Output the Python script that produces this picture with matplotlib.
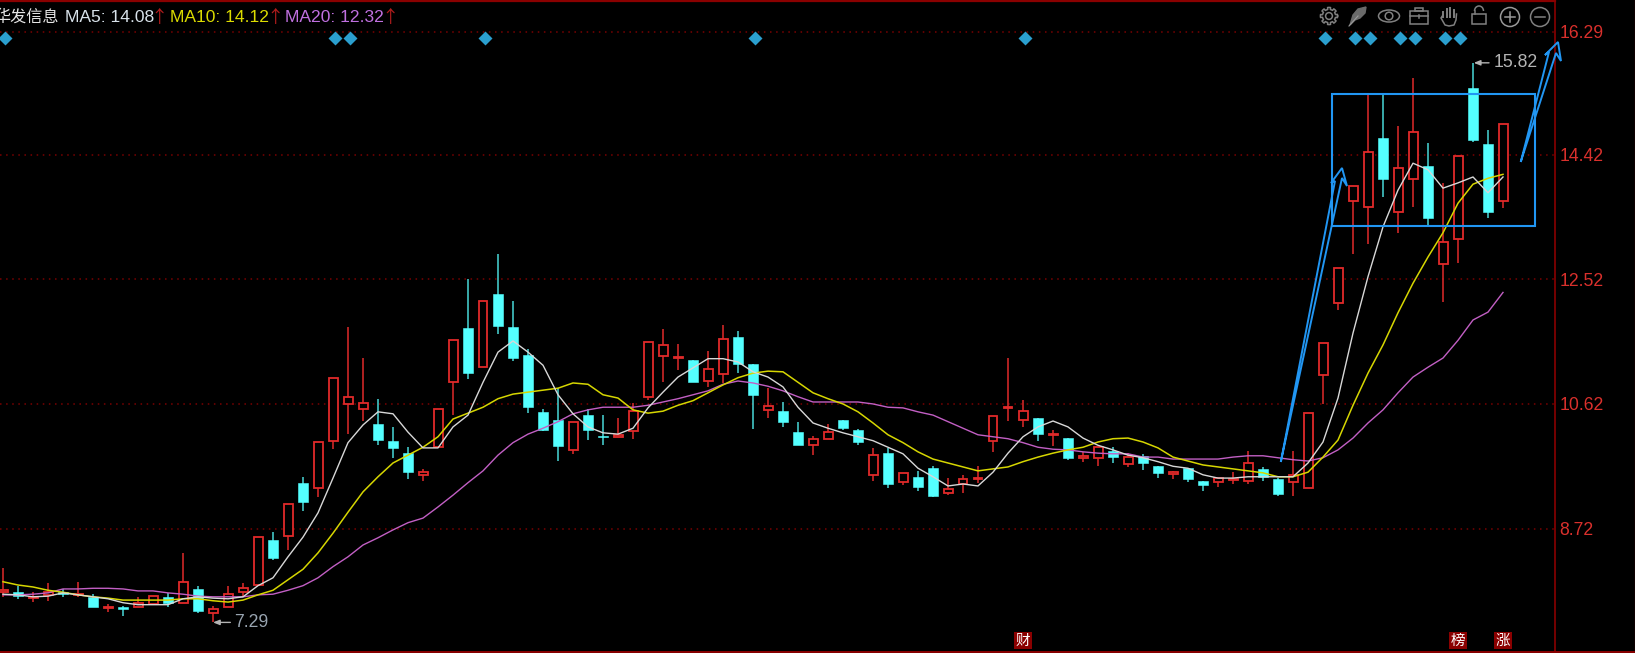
import numpy as np
from matplotlib import pyplot as plt
from matplotlib.patches import Circle, Ellipse, Rectangle, Arc

# Candle values, one per trading day
opens = [7.75, 7.75, 7.66, 7.71, 7.75, 7.71, 7.68, 7.51, 7.53, 7.53, 7.57, 7.68, 7.59, 7.80, 7.43, 7.53, 7.75, 7.86, 8.55, 8.61,
         9.42, 9.34, 10.05, 10.62, 10.54, 10.31, 10.05, 9.87, 9.54, 9.96, 10.95, 11.78, 11.18, 12.30, 11.79, 11.37, 10.50, 10.38, 9.92, 10.45,
         10.13, 10.12, 10.21, 10.73, 11.35, 11.32, 11.29, 10.97, 11.08, 11.64, 11.23, 10.53, 10.51, 10.19, 9.99, 10.09, 10.38, 10.22, 9.54, 9.87,
         9.43, 9.51, 9.64, 9.26, 9.40, 9.48, 10.05, 10.56, 10.38, 10.41, 10.15, 10.10, 9.80, 9.80, 9.90, 9.71, 9.83, 9.68, 9.55, 9.64,
         9.45, 9.43, 9.46, 9.45, 9.63, 9.48, 9.43, 9.34, 11.06, 12.16, 13.71, 13.62, 14.67, 13.55, 14.05, 14.25, 12.75, 13.14, 15.44, 14.58,
         13.71]
closes = [7.78, 7.69, 7.68, 7.75, 7.72, 7.72, 7.53, 7.53, 7.50, 7.59, 7.69, 7.59, 7.91, 7.46, 7.49, 7.72, 7.81, 8.59, 8.27, 9.10,
          9.13, 10.04, 11.02, 10.73, 10.64, 10.07, 9.95, 9.58, 9.58, 10.54, 11.59, 11.09, 12.19, 11.81, 11.32, 10.57, 10.22, 9.98, 10.35, 10.22,
          10.12, 10.15, 10.51, 11.56, 11.52, 11.34, 10.95, 11.15, 11.61, 11.23, 10.76, 10.59, 10.35, 9.99, 10.09, 10.19, 10.25, 10.04, 9.84, 9.40,
          9.57, 9.36, 9.22, 9.32, 9.48, 9.49, 10.44, 10.57, 10.51, 10.16, 10.16, 9.80, 9.83, 9.96, 9.81, 9.81, 9.72, 9.57, 9.58, 9.48,
          9.38, 9.49, 9.48, 9.72, 9.51, 9.25, 9.54, 10.48, 11.55, 12.69, 13.94, 14.46, 14.05, 14.22, 14.77, 13.45, 13.09, 14.40, 14.64, 13.55,
          14.89]
highs = [8.12, 7.85, 7.75, 7.89, 7.80, 7.91, 7.72, 7.57, 7.54, 7.68, 7.69, 7.74, 8.35, 7.85, 7.54, 7.85, 7.89, 8.59, 8.67, 9.10,
         9.51, 10.04, 11.02, 11.79, 11.32, 10.70, 10.27, 9.96, 9.63, 10.54, 11.59, 12.53, 12.19, 12.91, 12.19, 11.46, 10.54, 10.86, 10.35, 10.54,
         10.45, 10.41, 10.64, 11.56, 11.76, 11.53, 11.29, 11.43, 11.82, 11.73, 11.23, 10.86, 10.65, 10.35, 10.13, 10.31, 10.38, 10.24, 9.95, 9.95,
         9.57, 9.60, 9.67, 9.49, 9.54, 9.67, 10.44, 11.32, 10.68, 10.41, 10.22, 10.10, 9.89, 9.96, 9.96, 9.87, 9.86, 9.68, 9.60, 9.64,
         9.45, 9.49, 9.58, 9.90, 9.66, 9.49, 9.90, 10.48, 11.55, 12.69, 13.94, 15.33, 15.33, 14.86, 15.59, 14.60, 13.99, 14.40, 15.82, 14.80,
         14.89]
lows = [7.68, 7.65, 7.60, 7.62, 7.68, 7.68, 7.53, 7.45, 7.39, 7.53, 7.57, 7.53, 7.59, 7.43, 7.29, 7.53, 7.68, 7.86, 8.24, 8.39,
        8.99, 9.20, 9.93, 10.16, 10.36, 9.99, 9.80, 9.48, 9.45, 9.96, 10.45, 11.00, 11.18, 11.69, 11.28, 10.48, 10.21, 9.75, 9.86, 10.07,
        9.99, 10.12, 10.09, 10.68, 10.95, 11.14, 10.95, 10.88, 10.94, 11.09, 10.24, 10.41, 10.27, 9.99, 9.84, 10.09, 10.22, 9.99, 9.45, 9.34,
        9.38, 9.29, 9.20, 9.23, 9.26, 9.42, 9.89, 10.36, 10.27, 10.05, 9.98, 9.77, 9.74, 9.68, 9.72, 9.66, 9.61, 9.49, 9.48, 9.43,
        9.29, 9.36, 9.40, 9.40, 9.45, 9.22, 9.22, 9.34, 10.62, 12.05, 12.91, 13.06, 13.77, 13.23, 13.62, 13.35, 12.17, 12.77, 14.61, 13.45,
        13.61]

ma5 = [7.72, 7.71, 7.68, 7.69, 7.74, 7.71, 7.68, 7.65, 7.59, 7.56, 7.56, 7.56, 7.65, 7.68, 7.66, 7.65, 7.68, 7.85, 7.97, 8.29,
       8.59, 8.96, 9.49, 10.03, 10.30, 10.50, 10.47, 10.19, 9.95, 9.95, 10.27, 10.45, 10.95, 11.41, 11.58, 11.41, 11.21, 10.76, 10.47, 10.27,
       10.18, 10.16, 10.25, 10.56, 10.80, 11.03, 11.17, 11.31, 11.31, 11.26, 11.11, 11.03, 10.88, 10.57, 10.33, 10.25, 10.18, 10.12, 10.06, 9.96,
       9.86, 9.64, 9.51, 9.37, 9.40, 9.37, 9.58, 9.87, 10.12, 10.27, 10.36, 10.27, 10.10, 9.99, 9.92, 9.84, 9.80, 9.74, 9.67, 9.64,
       9.54, 9.49, 9.49, 9.51, 9.51, 9.51, 9.51, 9.72, 10.04, 10.71, 11.70, 12.56, 13.32, 13.88, 14.29, 14.19, 13.91, 13.99, 14.08, 13.84,
       14.08]
ma10 = [7.91, 7.86, 7.83, 7.78, 7.75, 7.71, 7.68, 7.66, 7.63, 7.63, 7.63, 7.63, 7.65, 7.65, 7.62, 7.60, 7.63, 7.71, 7.78, 7.94,
        8.10, 8.35, 8.65, 8.97, 9.28, 9.51, 9.72, 9.84, 9.96, 10.12, 10.39, 10.48, 10.57, 10.70, 10.77, 10.80, 10.83, 10.86, 10.94, 10.92,
        10.76, 10.71, 10.53, 10.48, 10.51, 10.60, 10.67, 10.79, 10.91, 11.02, 11.09, 11.12, 11.11, 10.95, 10.79, 10.70, 10.62, 10.50, 10.33, 10.15,
        10.03, 9.89, 9.78, 9.72, 9.66, 9.60, 9.63, 9.66, 9.74, 9.81, 9.87, 9.92, 9.96, 10.04, 10.09, 10.10, 10.04, 9.95, 9.81, 9.75,
        9.69, 9.66, 9.63, 9.60, 9.57, 9.51, 9.51, 9.58, 9.81, 10.07, 10.60, 11.09, 11.52, 12.01, 12.46, 12.86, 13.23, 13.68, 13.97, 14.06,
        14.12]
ma20 = [7.71, 7.71, 7.72, 7.74, 7.80, 7.80, 7.81, 7.81, 7.80, 7.77, 7.77, 7.74, 7.72, 7.69, 7.68, 7.68, 7.68, 7.71, 7.72, 7.78,
        7.85, 7.97, 8.14, 8.29, 8.47, 8.58, 8.70, 8.81, 8.88, 9.05, 9.23, 9.42, 9.60, 9.84, 10.03, 10.16, 10.25, 10.35, 10.47, 10.53,
        10.57, 10.57, 10.57, 10.60, 10.65, 10.70, 10.76, 10.82, 10.92, 10.97, 10.94, 10.89, 10.82, 10.73, 10.65, 10.65, 10.65, 10.65, 10.62, 10.57,
        10.56, 10.50, 10.45, 10.35, 10.25, 10.15, 10.12, 10.09, 10.03, 9.96, 9.93, 9.92, 9.89, 9.87, 9.86, 9.86, 9.81, 9.81, 9.78, 9.78,
        9.78, 9.78, 9.81, 9.83, 9.83, 9.80, 9.77, 9.75, 9.80, 9.92, 10.10, 10.33, 10.53, 10.79, 11.03, 11.18, 11.32, 11.59, 11.90, 12.02,
        12.32]

price_ticks = [16.29, 14.42, 12.52, 10.62, 8.72]
diamond_days = [0, 22, 23, 32, 50, 68, 88, 90, 91, 93, 94, 96, 97]
tag_days = [68, 97, 100]
tag_chars = ['财', '榜', '涨']

W, H = 1635, 653
AXIS_X = 1555
RED = '#e12a2a'
CYAN = '#54ffff'
WICK_CYAN = '#48d8d8'
DARK_RED = '#8a0000'
BLUE = '#2196f3'
GREY = '#808080'
LATIN = ['Liberation Sans', 'DejaVu Sans']
CJK = ['Noto Sans CJK SC', 'DejaVu Sans']

opens = np.array(opens)
closes = np.array(closes)
highs = np.array(highs)
lows = np.array(lows)
days = np.arange(len(opens))

fig = plt.figure(figsize=(W / 100, H / 100), dpi=100, facecolor='black')
ax = fig.add_axes([0, 0, AXIS_X / W, 1], facecolor='black')
# one candle every 15 px, first one 3 px from the left edge
ax.set_xlim(-3 / 15, (AXIS_X - 3) / 15)
# 65.6 px per yuan, 16.29 sits 32 px down
top = 16.29 + 32 / 65.6
ax.set_ylim(top - H / 65.6, top)

ax.set_xticks([])
ax.set_yticks(price_ticks)
ax.set_yticklabels(['%.2f' % p for p in price_ticks], family=LATIN, fontsize=12.7)
ax.yaxis.tick_right()
ax.tick_params(axis='y', length=0, pad=3, labelcolor='#d9302c')
ax.grid(axis='y', color='#7a0000', linestyle=(0, (1, 3)), linewidth=1.1)
ax.set_axisbelow(True)
for side, spine in ax.spines.items():
    spine.set_visible(side == 'right')
    spine.set_color(DARK_RED)
    spine.set_linewidth(1.2)

up = closes >= opens
body_lo = np.minimum(opens, closes)
body_hi = np.maximum(opens, closes)

# wicks stop at the body so the red candles stay hollow
ax.vlines(days[up], lows[up], body_lo[up], color=RED, lw=1.1, zorder=2)
ax.vlines(days[up], body_hi[up], highs[up], color=RED, lw=1.1, zorder=2)
ax.vlines(days[~up], lows[~up], highs[~up], color=WICK_CYAN, lw=1.1, zorder=2)
ax.bar(days[up], (body_hi - body_lo)[up], bottom=body_lo[up], width=0.6,
       facecolor='black', edgecolor=RED, linewidth=1.3, zorder=3)
ax.bar(days[~up], (body_hi - body_lo)[~up], bottom=body_lo[~up], width=0.66,
       facecolor=CYAN, edgecolor=CYAN, linewidth=0.4, zorder=3)

ax.plot(days, ma20, color='#c25fc4', lw=1.0, zorder=4)
ax.plot(days, ma10, color='#d6d600', lw=1.1, zorder=5)
ax.plot(days, ma5, color='#d8d8d8', lw=1.0, zorder=6)

# high / low markers
hi_day = int(np.argmax(highs))
lo_day = int(np.argmin(lows))
ax.annotate('%.2f' % highs[hi_day], xy=(hi_day + 0.05, highs[hi_day]), xytext=(14, 0), textcoords='offset points',
            va='center', ha='left', color='#b4b4b4', fontsize=12.7, family=LATIN, zorder=8,
            arrowprops=dict(arrowstyle='-|>,head_width=0.12,head_length=0.3', color='#b4b4b4', lw=1, shrinkA=1, shrinkB=0))
ax.annotate('%.2f' % lows[lo_day], xy=(lo_day, lows[lo_day]), xytext=(15.5, 0), textcoords='offset points',
            va='center', ha='left', color='#98a4b0', fontsize=12.7, family=LATIN, zorder=8,
            arrowprops=dict(arrowstyle='-|>,head_width=0.12,head_length=0.3', color='#b4b4b4', lw=1, shrinkA=1, shrinkB=0))

trans = ax.get_xaxis_transform()
# the diamonds sit a little right of their candle
ax.plot(np.array(diamond_days) + 0.13, [1 - 38 / H] * len(diamond_days), ls='none', marker='D', ms=7.4, color='#2b9fcf',
        mec='none', transform=trans, clip_on=True, zorder=7)
for d, ch in zip(tag_days, tag_chars):
    ax.text(d, 1 - 640.5 / H, ch, transform=trans, ha='center', va='center', color='white', fontsize=10.5,
            family=CJK, zorder=7, bbox=dict(facecolor=DARK_RED, edgecolor='none', pad=1.2))

# everything hand drawn on the chart goes on a pixel overlay
ov = fig.add_axes([0, 0, 1, 1], facecolor='none')
ov.set_xlim(0, W)
ov.set_ylim(H, 0)
ov.axis('off')

ov.plot([0, AXIS_X], [1, 1], color=DARK_RED, lw=1.6)
ov.plot([0, W], [652, 652], color=DARK_RED, lw=1.4)
ov.plot([W - 0.5, W - 0.5], [0, H], color='#500000', lw=1)

ov.add_patch(Rectangle((1332, 94), 203, 132, fill=False, edgecolor=BLUE, lw=1.5, zorder=9))
arrow_a = [(1281, 461), (1335, 181), (1331, 183), (1342, 168), (1347, 186), (1342, 178), (1281, 461)]
arrow_b = [(1521, 161), (1549, 52), (1545, 55), (1558, 42), (1561, 61), (1556, 53), (1521, 161)]
for pts in (arrow_a, arrow_b):
    ov.plot([p[0] for p in pts], [p[1] for p in pts], color=BLUE, lw=1.4, solid_joinstyle='miter', clip_on=False, zorder=9)

# title row, the first character runs off the left edge like in the original
ov.text(-6, 17, '华发信息', color='#e6e6e6', fontsize=11.6, va='center', ha='left', family=CJK)
ma_texts = [('MA5: 14.08', 65, 159, '#d8e2ea'), ('MA10: 14.12', 170, 275, '#dcdc00'), ('MA20: 12.32', 285, 390, '#c070e0')]
for label, x0, x1, col in ma_texts:
    ov.text(x0, 17, label, color=col, fontsize=12.6, va='center', ha='left', family=LATIN)
    ov.text(x1, 18, '↑', color='#b01c1c', fontsize=12.5, va='center', ha='center', family=CJK)

# toolbar icons
th = np.linspace(0, 2 * np.pi, 200)
r = 7.6 + 1.0 * np.sign(np.cos(8 * th))
ov.plot(1329 + r * np.cos(th), 16 + r * np.sin(th), color=GREY, lw=1.1)
ov.add_patch(Circle((1329, 16), 3.4, fill=False, ec=GREY, lw=1.1))

ov.fill([1350, 1353, 1358, 1366, 1365, 1360, 1355], [25, 15, 9, 7, 13, 18, 20], color='#6a6a6a')
ov.plot([1349, 1358], [26, 16], color='#9a9a9a', lw=0.8)

ov.add_patch(Ellipse((1389, 16), 21, 12, fill=False, ec=GREY, lw=1.1))
ov.add_patch(Circle((1389, 16), 3.8, fill=False, ec=GREY, lw=1.1))

ov.add_patch(Rectangle((1410, 11), 18, 13, fill=False, ec=GREY, lw=1.1))
ov.add_patch(Rectangle((1415, 8), 8, 3, fill=False, ec=GREY, lw=1.1))
ov.plot([1410, 1428], [16, 16], color=GREY, lw=1.1)
ov.plot([1419, 1419], [15, 18], color=GREY, lw=1.1)

for fx, fy in [(1443, 12), (1446.5, 9), (1450, 8), (1453.5, 10)]:
    ov.plot([fx, fx], [fy, 17], color=GREY, lw=1.4)
ov.plot([1443, 1441, 1445, 1449, 1454, 1456, 1456.5], [15, 18, 25, 26, 25, 20, 14], color=GREY, lw=1.1)

ov.add_patch(Rectangle((1472, 14), 14, 10, fill=False, ec=GREY, lw=1.1))
ov.add_patch(Arc((1479, 11), 9, 10, theta1=180, theta2=360, ec=GREY, lw=1.1))
ov.plot([1474.5, 1474.5], [11, 14], color=GREY, lw=1.1)

ov.add_patch(Circle((1510, 17), 9.5, fill=False, ec='#999999', lw=1.1))
ov.plot([1505, 1515], [17, 17], color='#999999', lw=1.1)
ov.plot([1510, 1510], [12, 22], color='#999999', lw=1.1)
ov.add_patch(Circle((1540, 17), 9.5, fill=False, ec=GREY, lw=1.1))
ov.plot([1535, 1545], [17, 17], color=GREY, lw=1.1)

fig.savefig('out.png', dpi=100, facecolor='black')
